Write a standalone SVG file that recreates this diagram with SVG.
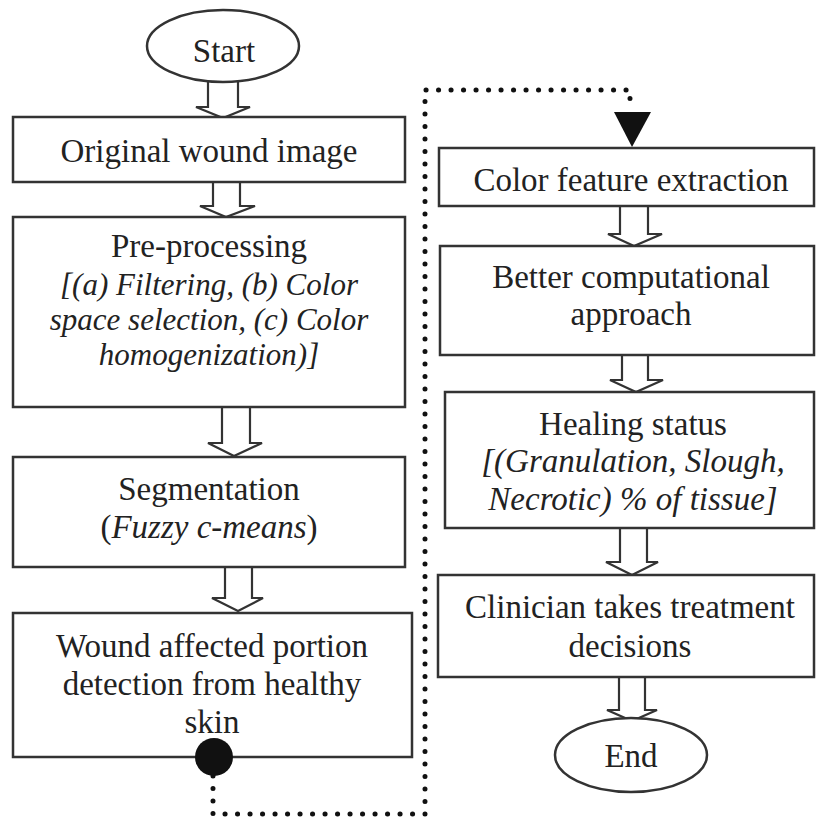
<svg xmlns="http://www.w3.org/2000/svg" width="816" height="818" viewBox="0 0 816 818">
<style>
.box{fill:#fff;stroke:#333;stroke-width:2.5}
.arr{fill:#fff;stroke:#333;stroke-width:2.2;stroke-linejoin:miter}
.t{font-family:"Liberation Serif","Times New Roman",serif;font-size:33px;fill:#222;text-anchor:middle}
.i{font-style:italic}
.s{font-size:31px}
.dot{fill:none;stroke:#111;stroke-width:5;stroke-linecap:round;stroke-dasharray:0.1 12.4}
</style>
<rect width="816" height="818" fill="#fff"/>
<g id="connectors">
<path class="arr" d="M208,82 V107 H196 L223,118 L250,107 H238 V82"/>
<path class="arr" d="M213,182 V206 H200 L226,217 L255,206 H240 V182"/>
<path class="arr" d="M222,407 V443 H208 L234,456 L262,443 H250 V407"/>
<path class="arr" d="M225,567 V598 H212 L238,611 L263,598 H252 V567"/>
<path class="arr" d="M620,206 V234 H608 L634,246 L662,234 H648 V206"/>
<path class="arr" d="M622,355 V380 H610 L636,392 L663,380 H648 V355"/>
<path class="arr" d="M620,528 V562 H606 L632,575 L658,562 H647 V528"/>
<path class="arr" d="M619,677 V710 H607 L632,721 L657,710 H645 V677"/>
<path class="dot" d="M213,776 V814 H425 V90 H630 V108"/>
<polygon points="614,112 651,112 632,147" fill="#111"/>
</g>
<g id="start">
<ellipse class="box" cx="223" cy="46" rx="76" ry="36"/>
<text class="t" x="224" y="62">Start</text>
</g>
<g id="original">
<rect class="box" x="13" y="117" width="392" height="65"/>
<text class="t" x="209" y="162">Original wound image</text>
</g>
<g id="preprocessing">
<rect class="box" x="13" y="217" width="392" height="190"/>
<text class="t" x="209" y="257">Pre-processing</text>
<text class="t i s" x="209" y="295">[(a) Filtering, (b) Color</text>
<text class="t i s" x="209" y="330">space selection, (c) Color</text>
<text class="t i s" x="209" y="365">homogenization)]</text>
</g>
<g id="segmentation">
<rect class="box" x="13" y="457" width="392" height="110"/>
<text class="t" x="209" y="500">Segmentation</text>
<text class="t" x="209" y="538">(<tspan class="i">Fuzzy c-means</tspan>)</text>
</g>
<g id="detection">
<rect class="box" x="13" y="613" width="399" height="144"/>
<text class="t" x="212" y="657">Wound affected portion</text>
<text class="t" x="212" y="695">detection from healthy</text>
<text class="t" x="212" y="733">skin</text>
<circle cx="214" cy="757" r="19" fill="#111"/>
</g>
<g id="colorfeature">
<rect class="box" x="439" y="148" width="375" height="58"/>
<text class="t" x="631" y="191">Color feature extraction</text>
</g>
<g id="better">
<rect class="box" x="440" y="246" width="374" height="109"/>
<text class="t" x="631" y="288">Better computational</text>
<text class="t" x="631" y="325">approach</text>
</g>
<g id="healing">
<rect class="box" x="445" y="392" width="369" height="136"/>
<text class="t" x="633" y="435">Healing status</text>
<text class="t i" x="633" y="472">[(Granulation, Slough,</text>
<text class="t i" x="633" y="510">Necrotic) % of tissue]</text>
</g>
<g id="clinician">
<rect class="box" x="438" y="575" width="376" height="102"/>
<text class="t" x="630" y="618">Clinician takes treatment</text>
<text class="t" x="630" y="657">decisions</text>
</g>
<g id="end">
<ellipse class="box" cx="631" cy="755" rx="76" ry="37"/>
<text class="t" x="631" y="767">End</text>
</g>
</svg>
